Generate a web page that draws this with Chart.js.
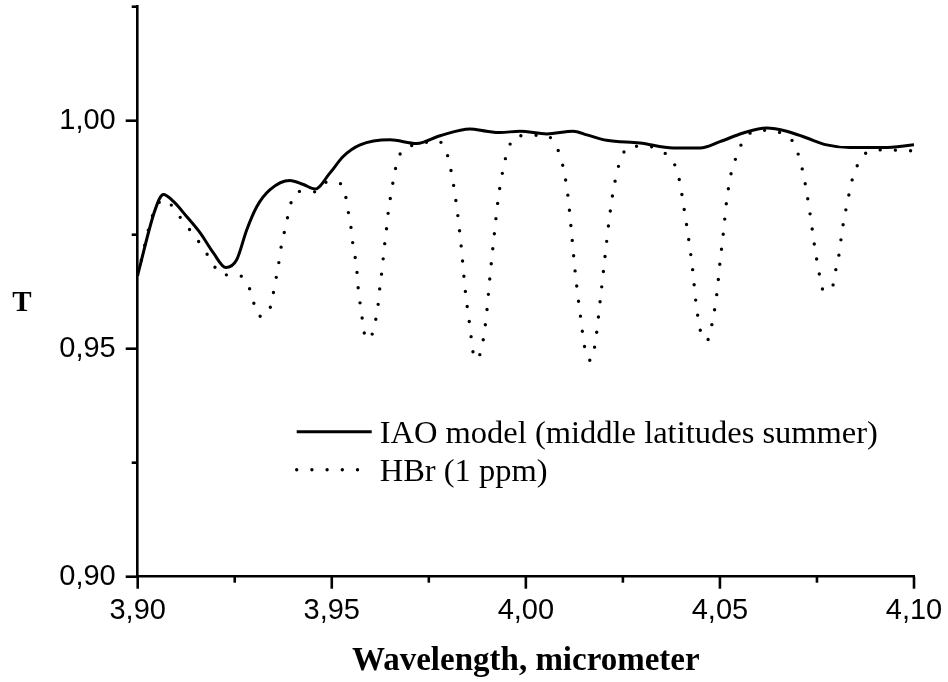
<!DOCTYPE html>
<html>
<head>
<meta charset="utf-8">
<title>Transmission, 3.90-4.10 micrometer</title>
<script src="https://cdn.jsdelivr.net/npm/chart.js@4.4.1/dist/chart.umd.min.js"></script>
<style>
  html, body { margin: 0; padding: 0; background: #fff; }
  #spectrumChart { display: block; }
</style>
</head>
<body>
<canvas id="spectrumChart" width="948" height="682"></canvas>
<script>
// values
const iaoWavelength = [
  3.900, 3.9045, 3.9066, 3.9092, 3.9126, 3.9161, 3.9195, 3.9227, 3.9255, 3.9281,
  3.9307, 3.9341, 3.9392, 3.9427, 3.9457, 3.9495, 3.953, 3.9573, 3.965, 3.9719,
  3.9779, 3.9856, 3.9899, 3.9933, 3.9985, 4.0054, 4.0122, 4.0157, 4.0208, 4.0294,
  4.038, 4.0449, 4.050, 4.056, 4.062, 4.0672, 4.0724, 4.0775, 4.0835, 4.0921, 4.100,
];
const iaoT = [
  0.9662, 0.9805, 0.9838, 0.9823, 0.9790, 0.9754, 0.9710, 0.9678, 0.9695, 0.9761,
  0.9812, 0.9849, 0.9869, 0.9860, 0.9850, 0.9885, 0.9922, 0.9947, 0.9958, 0.9950,
  0.9967, 0.9982, 0.9977, 0.9974, 0.9977, 0.9971, 0.9977, 0.9969, 0.9957, 0.9951,
  0.9940, 0.9940, 0.9954, 0.9973, 0.9984, 0.9977, 0.9962, 0.9947, 0.9941, 0.9941, 0.9947,
];

const hbrWavelength = [
  3.900, 3.9042, 3.907, 3.9102, 3.9133, 3.9163, 3.9188, 3.9216, 3.9255, 3.9285,
  3.9298, 3.9313, 3.9336, 3.9347, 3.9354, 3.9362, 3.9367, 3.9375, 3.9384, 3.9392,
  3.9414, 3.9457, 3.9491, 3.9526, 3.9538, 3.9544, 3.9551, 3.9555, 3.9562, 3.9566,
  3.9569, 3.9575, 3.958, 3.9588, 3.9605, 3.9614, 3.962, 3.9624, 3.9629, 3.9633,
  3.9637, 3.9642, 3.9646, 3.9652, 3.9659, 3.9667, 3.9686, 3.9722, 3.9767, 3.9796,
  3.9813, 3.9824, 3.9833, 3.9844, 3.9854, 3.9869, 3.9884, 3.9897, 3.9908, 3.9916,
  3.9929, 3.9942, 3.9952, 3.9974, 4.0052, 4.0081, 4.0094, 4.0108, 4.0116, 4.0127,
  4.0141, 4.0152, 4.0167, 4.0178, 4.0192, 4.0205, 4.0214, 4.0225, 4.0243, 4.027,
  4.0311, 4.035, 4.0382, 4.0395, 4.0408, 4.042, 4.043, 4.0438, 4.0451, 4.0467,
  4.0479, 4.0492, 4.050, 4.0509, 4.0517, 4.053, 4.0543, 4.056, 4.0599, 4.0676,
  4.0699, 4.0711, 4.0719, 4.0732, 4.0743, 4.0749, 4.0756, 4.0766, 4.0788, 4.0796,
  4.0805, 4.0816, 4.0831, 4.0839, 4.0852, 4.0878, 4.0919, 4.100,
];
const hbrT = [
  0.9662, 0.9801, 0.9827, 0.9796, 0.9762, 0.9728, 0.9695, 0.9662, 0.9662, 0.9639,
  0.9603, 0.9571, 0.9578, 0.9611, 0.9644, 0.9679, 0.9711, 0.9745, 0.9779, 0.9812,
  0.9845, 0.9844, 0.9867, 0.9860, 0.9825, 0.9792, 0.9757, 0.9724, 0.9691, 0.9658,
  0.9623, 0.9589, 0.9556, 0.9521, 0.9534, 0.9567, 0.9601, 0.9636, 0.9669, 0.9702,
  0.9735, 0.9770, 0.9803, 0.9836, 0.9871, 0.9905, 0.9939, 0.9947, 0.9957, 0.9930,
  0.9863, 0.9797, 0.9728, 0.9627, 0.9561, 0.9477, 0.9494, 0.9562, 0.9662, 0.9729,
  0.9830, 0.9896, 0.9931, 0.9966, 0.9968, 0.9939, 0.9906, 0.9838, 0.9770, 0.9669,
  0.9569, 0.9501, 0.9474, 0.9508, 0.9609, 0.9710, 0.9778, 0.9845, 0.9912, 0.9944,
  0.9944, 0.9933, 0.9906, 0.9872, 0.9805, 0.9737, 0.9671, 0.9603, 0.9535, 0.9518,
  0.9552, 0.9620, 0.9688, 0.9755, 0.9822, 0.9889, 0.9922, 0.9956, 0.9979, 0.9966,
  0.9933, 0.9898, 0.9865, 0.9797, 0.9730, 0.9697, 0.9664, 0.9629, 0.9629, 0.9664,
  0.9697, 0.9765, 0.9832, 0.9865, 0.9898, 0.9930, 0.9936, 0.9934,
];

const seriesLabels = ['IAO model (middle latitudes summer)', 'HBr (1 ppm)'];
const xTitle = 'Wavelength, micrometer';
const yTitle = 'T';

const xMajorTicks = [3.90, 3.95, 4.00, 4.05, 4.10];
const xMinorTicks = [3.925, 3.975, 4.025, 4.075];
const yMajorTicks = [0.90, 0.95, 1.00];
const yMinorTicks = [0.925, 0.975, 1.025];

const SANS = '"Liberation Sans", Arial, sans-serif';
const SERIF = '"Liberation Serif", "Times New Roman", serif';
const INK = '#000';
const AXIS_WIDTH = 2.6;

const toPoints = (xs, ys) => xs.map((x, i) => ({ x, y: ys[i] }));
const commaLabel = (value) => Number(value).toFixed(2).replace('.', ',');

// the scales otherwise push the plot in by half a label + padding
const noLabelPadding = (scale) => {
  scale.paddingTop = 0;
  scale.paddingBottom = 0;
  scale.paddingLeft = 0;
  scale.paddingRight = 0;
};

// outward tick marks, long for majors and short for minors
const tickMarks = {
  id: 'tickMarks',
  afterDraw(chart) {
    const { ctx, chartArea, scales } = chart;
    ctx.save();
    ctx.strokeStyle = INK;
    ctx.lineWidth = AXIS_WIDTH;
    const xTick = (value, len) => {
      const px = scales.x.getPixelForValue(value);
      ctx.beginPath();
      ctx.moveTo(px, chartArea.bottom);
      ctx.lineTo(px, chartArea.bottom + len);
      ctx.stroke();
    };
    const yTick = (value, len) => {
      const py = scales.y.getPixelForValue(value);
      ctx.beginPath();
      ctx.moveTo(chartArea.left, py);
      ctx.lineTo(chartArea.left - len, py);
      ctx.stroke();
    };
    xMajorTicks.forEach((v) => xTick(v, 12));
    xMinorTicks.forEach((v) => xTick(v, 6));
    yMajorTicks.forEach((v) => yTick(v, 12));
    yMinorTicks.forEach((v) => yTick(v, 6));
    ctx.restore();
  },
};

// the "T" stays upright, so it is not the rotated scale title
const uprightYTitle = {
  id: 'uprightYTitle',
  afterDraw(chart) {
    const { ctx, chartArea } = chart;
    ctx.save();
    ctx.fillStyle = INK;
    ctx.font = `bold 29px ${SERIF}`;
    ctx.textAlign = 'center';
    ctx.textBaseline = 'alphabetic';
    ctx.fillText(yTitle, 22, chartArea.top + 304);
    ctx.restore();
  },
};

// legend sits inside the plot area, like the original
const innerLegend = {
  id: 'innerLegend',
  afterDraw(chart) {
    const { ctx, chartArea } = chart;
    const x0 = chartArea.left + 159;
    const rows = [chartArea.top + 425, chartArea.top + 463];
    ctx.save();
    chart.data.datasets.forEach((ds, i) => {
      const y = rows[i];
      ctx.strokeStyle = ds.borderColor;
      ctx.lineWidth = ds.borderWidth;
      ctx.lineCap = ds.borderCapStyle || 'butt';
      ctx.setLineDash(ds.borderDash || []);
      ctx.beginPath();
      ctx.moveTo(x0, y);
      ctx.lineTo(x0 + (ds.borderDash ? 62 : 75), y);
      ctx.stroke();
      ctx.setLineDash([]);
      ctx.fillStyle = INK;
      ctx.font = `32.5px ${SERIF}`;
      ctx.textAlign = 'left';
      ctx.textBaseline = 'alphabetic';
      ctx.fillText(ds.label, x0 + 83, y + 11);
    });
    ctx.restore();
  },
};

const chart = new Chart(document.getElementById('spectrumChart'), {
  type: 'line',
  data: {
    datasets: [
      {
        label: seriesLabels[0],
        data: toPoints(iaoWavelength, iaoT),
        borderColor: INK,
        borderWidth: 3,
        pointRadius: 0,
        cubicInterpolationMode: 'monotone',
        fill: false,
        order: 0,
      },
      {
        label: seriesLabels[1],
        data: toPoints(hbrWavelength, hbrT),
        borderColor: INK,
        borderWidth: 3.4,
        borderDash: [0, 15.2],
        borderCapStyle: 'round',
        pointRadius: 0,
        cubicInterpolationMode: 'monotone',
        fill: false,
        order: 1,
      },
    ],
  },
  options: {
    responsive: false,
    devicePixelRatio: 1,
    animation: false,
    events: [],
    layout: {
      autoPadding: false,
      padding: { top: 6.7, right: 34, bottom: 0, left: 0 },
    },
    plugins: {
      legend: { display: false },
      tooltip: { enabled: false },
    },
    scales: {
      x: {
        type: 'linear',
        min: 3.9,
        max: 4.1,
        afterBuildTicks(scale) {
          scale.ticks = xMajorTicks.map((value) => ({ value }));
        },
        afterFit(scale) {
          scale.height = 105.3;
          noLabelPadding(scale);
        },
        ticks: {
          color: INK,
          font: { family: SANS, size: 29 },
          padding: 17,
          maxRotation: 0,
          autoSkip: false,
          callback: (value) => commaLabel(value),
        },
        grid: { display: true, drawOnChartArea: false, drawTicks: false },
        border: { display: true, color: INK, width: AXIS_WIDTH },
        title: {
          display: true,
          text: xTitle,
          color: INK,
          font: { family: SERIF, size: 33, weight: 'bold' },
          padding: { top: 0, bottom: 1 },
        },
      },
      y: {
        type: 'linear',
        min: 0.9,
        max: 1.025,
        afterBuildTicks(scale) {
          scale.ticks = yMajorTicks.map((value) => ({ value }));
        },
        afterFit(scale) {
          scale.width = 137.7;
          noLabelPadding(scale);
        },
        ticks: {
          color: INK,
          font: { family: SANS, size: 29 },
          padding: 22,
          callback: (value) => commaLabel(value),
        },
        grid: { display: true, drawOnChartArea: false, drawTicks: false },
        border: { display: true, color: INK, width: AXIS_WIDTH },
      },
    },
  },
  plugins: [tickMarks, uprightYTitle, innerLegend],
});
</script>
</body>
</html>
